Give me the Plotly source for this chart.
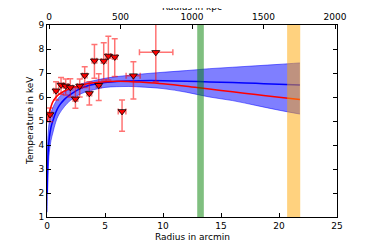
import plotly.graph_objects as go

# Data points
r_arcmin = [0.26, 0.78, 1.21, 1.61, 2.01, 2.45, 2.82, 3.25, 3.65, 4.09, 4.46, 4.89, 5.29, 5.84, 6.47, 7.45, 9.38]
r_err_lo = [0.2, 0.2, 0.2, 0.2, 0.2, 0.2, 0.2, 0.2, 0.2, 0.2, 0.2, 0.2, 0.2, 0.2, 0.33, 0.63, 1.41]
r_err_hi = [0.2, 0.2, 0.2, 0.2, 0.2, 0.2, 0.2, 0.2, 0.2, 0.2, 0.2, 0.2, 0.2, 0.2, 0.33, 0.58, 1.47]
temp = [5.27, 6.26, 6.5, 6.46, 6.4, 5.92, 6.46, 6.9, 6.15, 7.51, 6.49, 7.5, 7.71, 7.67, 5.4, 6.89, 7.86]
t_err_hi = [0.27, 0.38, 0.31, 0.29, 0.36, 0.48, 0.29, 0.36, 0.49, 0.68, 0.48, 0.76, 0.82, 0.76, 0.48, 0.58, 1.5]
t_err_lo = [0.3, 0.39, 0.39, 0.38, 0.4, 0.39, 0.46, 0.5, 0.48, 0.73, 0.64, 0.79, 1.0, 0.82, 0.83, 0.97, 1.22]

# Model curves
x_model = [0.02, 0.05, 0.1, 0.2, 0.35, 0.5, 0.75, 1, 1.5, 2, 3, 4, 5, 6, 7, 8, 10, 12, 14, 16, 18, 20, 21.8]
t_model = [2.0, 3.0, 3.7, 4.3, 4.75, 5.0, 5.35, 5.6, 5.9, 6.1, 6.38, 6.52, 6.6, 6.65, 6.67, 6.68, 6.68, 6.66, 6.63, 6.6, 6.57, 6.53, 6.5]
t_upper = [3.0, 4.0, 4.5, 5.0, 5.35, 5.55, 5.8, 5.97, 6.2, 6.33, 6.55, 6.68, 6.78, 6.85, 6.9, 6.95, 7.03, 7.1, 7.18, 7.24, 7.3, 7.36, 7.42]
t_lower = [1.2, 2.0, 2.9, 3.7, 4.2, 4.5, 4.95, 5.25, 5.6, 5.85, 6.15, 6.3, 6.4, 6.43, 6.44, 6.42, 6.35, 6.2, 6.0, 5.85, 5.65, 5.45, 5.29]
x_red = [0.05, 0.1, 0.2, 0.35, 0.5, 0.75, 1, 1.5, 2, 3, 4, 5, 6, 7, 8, 10, 12, 14, 16, 18, 20, 21.8]
t_red = [5.0, 5.15, 5.35, 5.6, 5.8, 5.98, 6.1, 6.25, 6.36, 6.5, 6.59, 6.64, 6.66, 6.65, 6.62, 6.55, 6.45, 6.33, 6.22, 6.1, 5.99, 5.9]

green_span = [12.95, 13.52]
orange_span = [20.7, 21.83]

kpc_range = [-14, 2014]
kpc_ticks = [0, 500, 1000, 1500, 2000]

x_title = "Radius in arcmin"
x2_title = "Radius in kpc"
y_title = "Temperature in keV"

fig = go.Figure()

fig.add_trace(go.Scatter(x=x_model, y=t_lower, mode="lines", line=dict(color="rgba(0,0,255,0.5)", width=1, shape="spline"),
                         showlegend=False, hoverinfo="skip"))
fig.add_trace(go.Scatter(x=x_model, y=t_upper, mode="lines", fill="tonexty", fillcolor="rgba(0,0,255,0.5)",
                         line=dict(color="rgba(0,0,255,0.5)", width=1, shape="spline"), showlegend=False, hoverinfo="skip"))
fig.add_trace(go.Scatter(x=x_model, y=t_model, mode="lines", line=dict(color="blue", width=1.5, shape="spline"), showlegend=False))
fig.add_trace(go.Scatter(x=x_red, y=t_red, mode="lines", line=dict(color="red", width=1.5, shape="spline"), showlegend=False))

fig.add_trace(go.Scatter(
    x=r_arcmin, y=temp, mode="markers",
    marker=dict(symbol="triangle-down", color="red", size=7, line=dict(color="black", width=0.8)),
    error_x=dict(type="data", symmetric=False, array=r_err_hi, arrayminus=r_err_lo, color="rgba(255,0,0,0.55)", thickness=1.5, width=3),
    error_y=dict(type="data", symmetric=False, array=t_err_hi, arrayminus=t_err_lo, color="rgba(255,0,0,0.55)", thickness=1.5, width=3),
    showlegend=False))

# dummy trace for top axis
fig.add_trace(go.Scatter(x=kpc_range, y=[None, None], xaxis="x2", mode="markers", showlegend=False, hoverinfo="skip"))

fig.add_shape(type="rect", xref="x", yref="paper", x0=green_span[0], x1=green_span[1], y0=0, y1=1,
              fillcolor="rgba(0,128,0,0.5)", line=dict(width=0), layer="above")
fig.add_shape(type="rect", xref="x", yref="paper", x0=orange_span[0], x1=orange_span[1], y0=0, y1=1,
              fillcolor="rgba(255,165,0,0.5)", line=dict(width=0), layer="above")

font = dict(family="DejaVu Sans", size=9, color="black")
fig.add_annotation(text=x2_title, xref="paper", yref="paper", x=0.5, y=1, yanchor="middle", yshift=18,
                   showarrow=False, font=font, borderpad=0)
fig.add_annotation(text=x_title, xref="paper", yref="paper", x=0.5, y=0, yanchor="middle", yshift=-20,
                   showarrow=False, font=font, borderpad=0)
fig.add_annotation(text=y_title, xref="paper", yref="paper", x=0, y=0.5, xanchor="center", xshift=-17,
                   textangle=-90, showarrow=False, font=font, borderpad=0)

fig.update_layout(
    width=366, height=241,
    margin=dict(l=39, r=37, t=17, b=32),
    paper_bgcolor="white", plot_bgcolor="white",
    font=font,
    xaxis=dict(range=[0, 25], tickvals=[0, 5, 10, 15, 20, 25], ticks="inside", ticklen=4, tickcolor="black",
               showline=True, linecolor="black", linewidth=1, mirror=False, showgrid=False, zeroline=False,
               automargin=False, tickfont=font),
    xaxis2=dict(range=kpc_range, tickvals=kpc_ticks, overlaying="x", side="top", ticks="inside", ticklen=4, tickcolor="black",
                showline=True, linecolor="black", linewidth=1, showgrid=False, zeroline=False, automargin=False,
                tickfont=font),
    yaxis=dict(range=[1, 9], tickvals=list(range(1, 10)), ticks="inside", ticklen=4, tickcolor="black",
               showline=True, linecolor="black", linewidth=1, mirror="ticks", showgrid=False, zeroline=False,
               automargin=False, tickfont=font),
)

fig.write_html("out.html", config={"displayModeBar": False})
